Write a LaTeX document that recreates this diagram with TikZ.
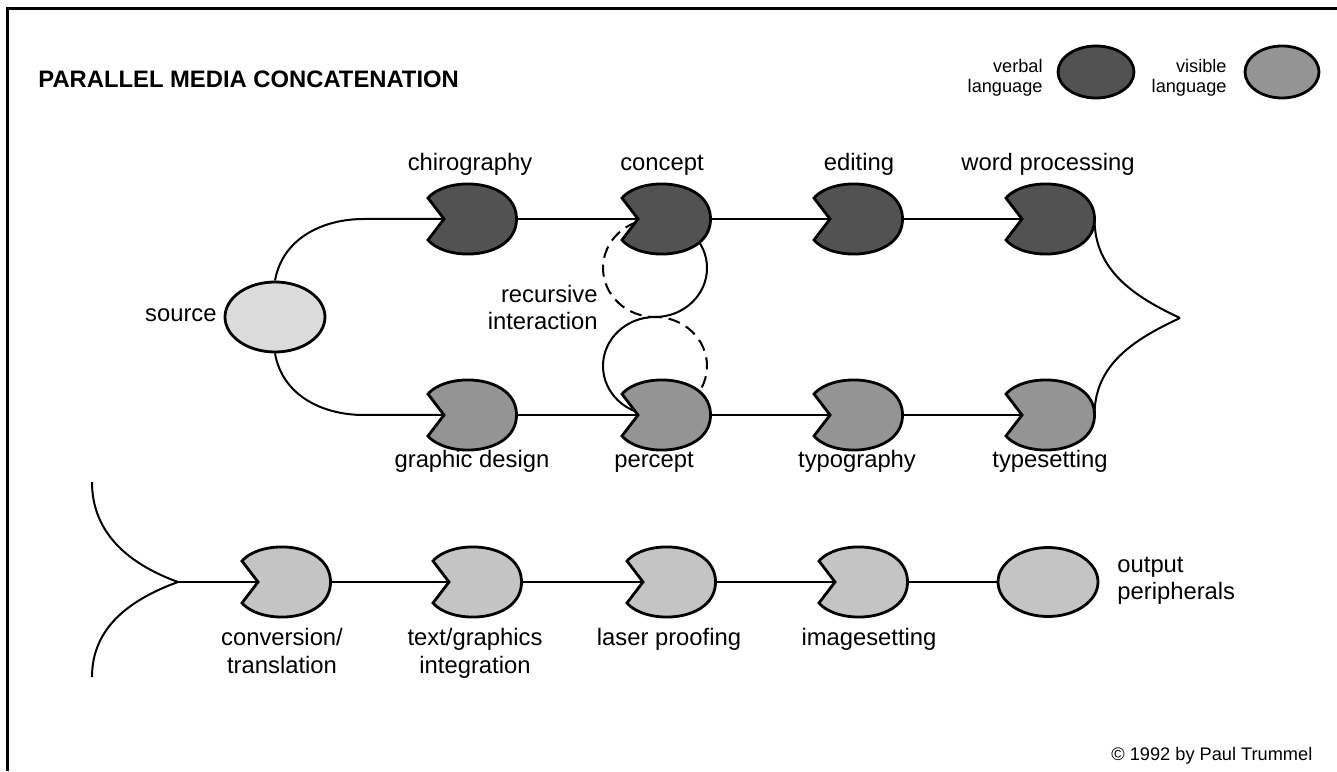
\documentclass[tikz,border=0pt]{standalone}
\usepackage{fontspec}
\setmainfont{Liberation Sans}
\usetikzlibrary{calc,shapes.geometric,backgrounds}

\definecolor{verbal}{gray}{0.32}
\definecolor{visible}{gray}{0.58}
\definecolor{srcgray}{gray}{0.86}
\definecolor{outgray}{gray}{0.77}

\newcommand{\lblfont}{\fontsize{11.9pt}{13.8pt}\selectfont}
\newcommand{\smallfont}{\fontsize{9.1pt}{10pt}\selectfont}

\tikzset{
	pics/pacman/.style={code={
		% lens with the bite on its left side
		\filldraw[rim, fill=#1] (-44,21) -- (-28,0) -- (-44,-21)
			.. controls (-24,-44) and (44.5,-40) .. (44.5,0)
			.. controls (44.5,40) and (-24,44) .. (-44,21) -- cycle;
		\coordinate (-tip) at (-28,0);
		\coordinate (-e) at (44.5,0);
		\coordinate (-c) at (0,0);
	}},
	rim/.style={line width=1.4pt, line join=miter},
	link/.style={line width=1pt},
	blob/.style={ellipse, draw, rim, inner sep=0pt},
	lbl/.style={font=\lblfont, inner sep=0pt},
	smalltxt/.style={font=\smallfont, inner sep=0pt}
}

\begin{document}
\begin{tikzpicture}[x=0.5pt, y=0.5pt]
	\useasboundingbox (0,0) rectangle (1337,771);

	% Draw the frame
	\draw[line width=1.5pt] (7,0) -- (7,762) -- (1337,762);

	% Draw the title
	\node[lbl, font=\lblfont\bfseries, anchor=base west] (title) at (38,683) {PARALLEL MEDIA CONCATENATION};

	% Draw the legend (base is the last line)
	\node[smalltxt, align=right, anchor=base east] (verbalL) at (1043,678) {verbal\\language};
	\node[blob, fill=verbal, minimum width=38pt, minimum height=26pt] (verbalK) at (1096,699) {};
	\node[smalltxt, align=right, anchor=base east] (visibleL) at (1227,678) {visible\\language};
	\node[blob, fill=visible, minimum width=37pt, minimum height=26pt] (visibleK) at (1282,699) {};

	% Draw the source
	\node[blob, fill=srcgray, minimum width=50pt, minimum height=35pt] (source) at (275,454) {};
	\node[lbl, anchor=base east] (sourceL) at (217,449) {source};

	% Draw the verbal row
	\foreach \nm/\x/\lx/\txt in {chiro/472/470/chirography, concept/666/662/concept, editing/858/859/editing, wordp/1050/1048/word processing} {
		\pic (\nm) at (\x,552) {pacman=verbal};
		\node[lbl, anchor=base] (\nm-lbl) at (\lx,600) {\txt};
	}

	% Draw the visible row
	\foreach \nm/\x/\lx/\txt in {graph/472/472/graphic design, percept/666/654/percept, typog/858/857/typography, typeset/1050/1050/typesetting} {
		\pic (\nm) at (\x,356) {pacman=visible};
		\node[lbl, anchor=base] (\nm-lbl) at (\lx,303) {\txt};
	}

	% Draw the output row
	\foreach \nm/\x/\lx/\txt in {conv/286/282/{conversion/\\translation}, txtg/477/475/{text/graphics\\integration}, laser/671/669/{laser proofing\\\strut}, imgs/863/869/{imagesetting\\\strut}} {
		\pic (\nm) at (\x,189) {pacman=outgray};
		\node[lbl, align=center, anchor=base] (\nm-lbl) at (\lx,98) {\txt};
	}
	\node[blob, fill=outgray, minimum width=50pt, minimum height=34.5pt] (outp) at (1048,189) {};
	\node[lbl, align=left, anchor=base west] (outp-lbl) at (1117,171) {output\\peripherals};

	% Split from the source
	\draw[link] (source.north) to[out=80,in=180] ($(chiro-tip)+(-80,0)$) -- (chiro-tip);
	\draw[link] (source.south) to[out=-80,in=180] ($(graph-tip)+(-80,0)$) -- (graph-tip);

	% Straight links
	\foreach \a/\b in {chiro/concept, concept/editing, editing/wordp, graph/percept, percept/typog, typog/typeset, conv/txtg, txtg/laser, laser/imgs}
		\draw[link] (\a-e) -- (\b-tip);
	\draw[link] (imgs-e) -- (outp.west);

	% Merge on the right
	\coordinate (merge) at (1180,453);
	\draw[link] (wordp-e) to[out=-90,in=155] (merge);
	\draw[link] (typeset-e) to[out=90,in=205] (merge);

	% Continue on the left
	\coordinate (split) at (178,189);
	\coordinate (contTop) at (92,289);
	\coordinate (contBot) at (92,94);
	\draw[link] (contTop) to[out=-90,in=160] (split);
	\draw[link] (contBot) to[out=90,in=200] (split);
	\draw[link] (split) -- (conv-tip);

	% Recursive loops behind concept and percept
	\begin{scope}[on background layer]
		\coordinate (loopA) at ($(concept-c)+(-11,-49)$);
		\coordinate (loopB) at ($(percept-c)+(-11,49)$);
		\draw[link, dash pattern=on 6pt off 3.5pt] (loopA) ++(0,49) arc[start angle=90, end angle=270, x radius=52, y radius=49];
		\draw[link] (loopA) ++(0,-49) arc[start angle=-90, end angle=90, x radius=52, y radius=49];
		\draw[link] (loopB) ++(0,49) arc[start angle=90, end angle=270, x radius=52, y radius=49];
		\draw[link, dash pattern=on 6pt off 3.5pt] (loopB) ++(0,-49) arc[start angle=-90, end angle=90, x radius=52, y radius=49];
	\end{scope}
	\node[lbl, align=right, anchor=base east] (loopL) at (598,441) {recursive\\interaction};

	% Draw the copyright
	\node[smalltxt, anchor=base west] (copy) at (1111,11) {© 1992 by Paul Trummel};
\end{tikzpicture}
\end{document}
